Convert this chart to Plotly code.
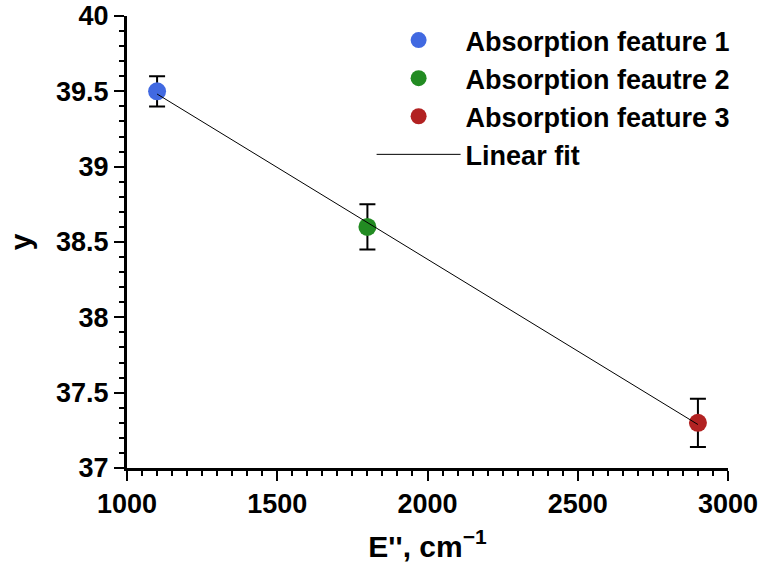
import numpy as np
import plotly.graph_objects as go

# Data
names = ["Absorption feature 1", "Absorption feautre 2", "Absorption feature 3"]
energies = [1100, 1800, 2900]
y_values = [39.5, 38.6, 37.3]
y_errors = [0.1, 0.15, 0.16]
colors = ["#4169E1", "#228B22", "#B22222"]
x_ticks = [1000, 1500, 2000, 2500, 3000]
y_ticks = [37, 37.5, 38, 38.5, 39, 39.5, 40]

FONT = "Liberation Sans, Arial, sans-serif"

fig = go.Figure()

# Linear fit computed from the data
slope, intercept = np.polyfit(energies, y_values, 1)
fit_x = [min(energies), max(energies)]
fit_y = [slope * v + intercept for v in fit_x]

for n, xv, yv, ev, c in zip(names, energies, y_values, y_errors, colors):
    fig.add_trace(go.Scatter(
        x=[xv], y=[yv], mode="markers", name=n,
        marker=dict(color=c, size=18),
        error_y=dict(type="data", array=[ev], visible=True,
                     color="black", thickness=2, width=8),
    ))

fig.add_trace(go.Scatter(
    x=fit_x, y=fit_y, mode="lines", name="Linear fit",
    line=dict(color="black", width=1),
))

axis_common = dict(
    showline=True, linecolor="black", linewidth=3,
    ticks="outside", ticklen=10, tickwidth=2, tickcolor="black",
    showgrid=False, zeroline=False, mirror=False, automargin=False,
    ticklabeloverflow="allow",
    tickfont=dict(family=FONT, size=27, color="black", weight="bold"),
)

fig.update_xaxes(
    range=[999.9, 3000.1], tickvals=x_ticks,
    ticktext=[str(v) for v in x_ticks],
    minor=dict(dtick=50, ticks="outside", ticklen=5, tickwidth=2, tickcolor="black", showgrid=False),
    title=dict(text="E'', cm<sup>−1</sup>", font=dict(family=FONT, size=30, color="black", weight="bold"), standoff=18),
    **axis_common,
)
fig.update_yaxes(
    range=[36.9999, 40.0001], tickvals=y_ticks,
    ticktext=[f"{v:g}" for v in y_ticks],
    minor=dict(dtick=0.1, ticks="outside", ticklen=5, tickwidth=2, tickcolor="black", showgrid=False),
    title=dict(text="y", font=dict(family=FONT, size=30, color="black", weight="bold"), standoff=16),
    **axis_common,
)

fig.update_layout(
    width=761, height=573,
    margin=dict(l=127, r=33, t=16, b=105),
    plot_bgcolor="white", paper_bgcolor="white",
    showlegend=True,
    legend=dict(
        x=0.407, y=1.0, xanchor="left", yanchor="top",
        bgcolor="rgba(0,0,0,0)",
        font=dict(family=FONT, size=27, color="black", weight="bold"),
        itemwidth=84, tracegroupgap=0,
    ),
)

fig.write_html("out.html")
